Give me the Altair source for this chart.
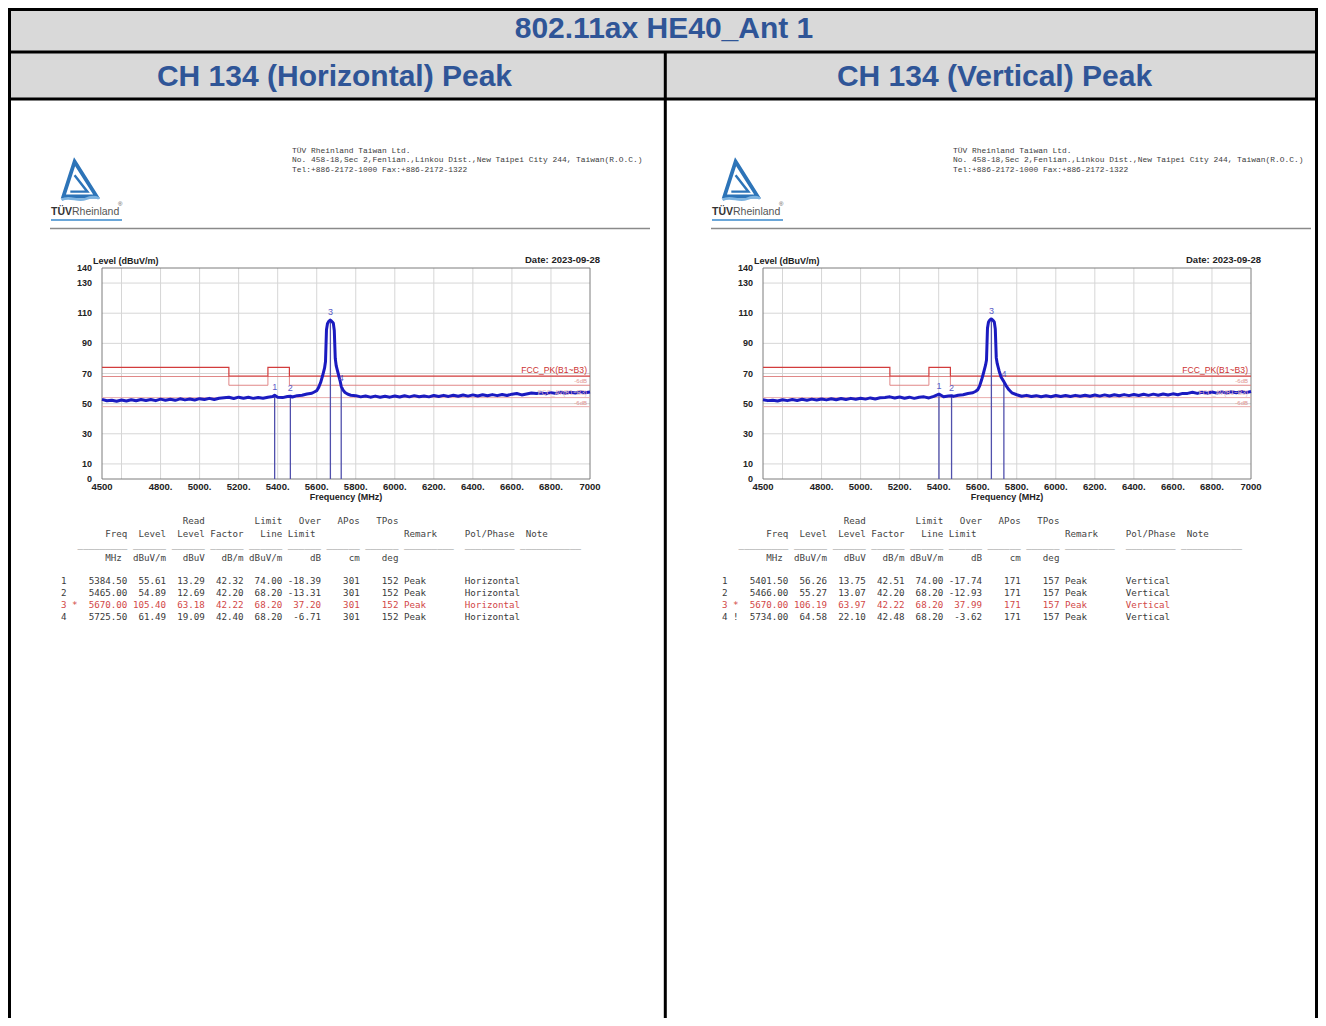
import altair as alt
import pandas as pd

# ----------------------------------------------------------------- texts
MAIN_TITLE = "802.11ax HE40_Ant 1"
PANEL_TITLES = ["CH 134 (Horizontal) Peak", "CH 134 (Vertical) Peak"]
ADDRESS = ["TÜV Rheinland Taiwan Ltd.",
           "No. 458-18,Sec 2,Fenlian.,Linkou Dist.,New Taipei City 244, Taiwan(R.O.C.)",
           "Tel:+886-2172-1000 Fax:+886-2172-1322"]
DATE_TEXT = "Date: 2023-09-28"
Y_TITLE = "Level (dBuV/m)"
X_TITLE = "Frequency (MHz)"
LIMIT_LABELS = ["FCC_PK(B1~B3)", "-6dB", "FCC_AV(B1~B3)", "-6dB"]

# ----------------------------------------------------------------- axes
X_DOMAIN = [4500, 7000]
Y_DOMAIN = [0, 140]
x_tick_values = [4500, 4800, 5000, 5200, 5400, 5600, 5800, 6000, 6200, 6400, 6600, 6800, 7000]
x_tick_labels = ["4500", "4800.", "5000.", "5200.", "5400.", "5600.", "5800.", "6000.",
                 "6200.", "6400.", "6600.", "6800.", "7000"]
y_tick_values = [0, 10, 30, 50, 70, 90, 110, 130, 140]
y_tick_labels = ["0", "10", "30", "50", "70", "90", "110", "130", "140"]
grid_freq = [4600, 4800, 5000, 5200, 5400, 5600, 5800, 6000, 6200, 6400, 6600, 6800]
grid_level = [10, 30, 50, 70, 90, 110, 130]

# ----------------------------------------------------------------- limit lines
limit_pk_freq = [4500, 5150, 5350, 5460, 7000]
limit_pk_level = [74.0, 68.2, 74.0, 68.2, 68.2]
limit_pk6_level = [68.0, 62.2, 68.0, 62.2, 62.2]
limit_av_freq = [4500, 7000]
limit_av_level = [54.0, 54.0]
limit_av6_level = [48.0, 48.0]
limit_label_level = [68.2, 62.2, 54.0, 48.0]

# ----------------------------------------------------------------- traces
h_freq = [4500, 4525, 4550, 4575, 4600, 4625, 4650, 4675, 4700, 4725, 4750, 4775,
          4800, 4825, 4850, 4875, 4900, 4925, 4950, 4975, 5000, 5025, 5050, 5075,
          5100, 5125, 5150, 5175, 5200, 5225, 5250, 5275, 5300, 5325, 5350, 5375,
          5384.5, 5400, 5425, 5450, 5465, 5475, 5500, 5525, 5550, 5575, 5590, 5600,
          5610, 5620, 5630, 5640, 5645, 5650, 5655, 5660, 5665, 5670, 5675, 5680,
          5685, 5690, 5695, 5700, 5710, 5720, 5725.5, 5735, 5745, 5760, 5775,
          5800, 5825, 5850, 5875, 5900, 5925, 5950, 5975, 6000, 6025, 6050, 6075,
          6100, 6125, 6150, 6175, 6200, 6225, 6250, 6275, 6300, 6325, 6350, 6375,
          6400, 6425, 6450, 6475, 6500, 6525, 6550, 6575, 6600, 6625, 6650, 6675,
          6700, 6725, 6750, 6775, 6800, 6825, 6850, 6875, 6900, 6925, 6950, 6975, 7000]
h_level = [52.8, 51.9, 52.3, 51.6, 52.4, 51.8, 52.6, 51.9, 52.7, 52.1, 52.8, 52.0,
           53.0, 52.3, 52.9, 52.2, 53.2, 52.5, 53.1, 52.4, 53.3, 52.7, 53.5, 52.8,
           53.6, 53.9, 54.2, 53.4, 54.3, 53.6, 54.2, 53.5, 54.1, 53.6, 54.3, 54.7,
           55.6, 54.3, 54.0, 54.7, 54.9, 54.4, 55.3, 55.6, 56.4, 56.9, 57.9, 58.6,
           60.8, 64.0, 68.5, 73.5, 78.0, 99.0, 103.0, 104.3, 105.0, 105.4, 104.9, 104.2,
           103.4, 98.5, 80.0, 75.0, 70.0, 65.0, 61.5, 59.0, 57.4, 56.2, 55.6,
           55.3, 54.5, 55.1, 54.3, 55.0, 54.2, 54.9, 54.3, 55.1, 54.4, 55.2, 54.5,
           55.3, 54.6, 55.1, 54.5, 55.4, 54.7, 55.5, 54.8, 55.6, 54.9, 55.7, 55.0,
           55.8, 55.1, 55.9, 55.2, 56.0, 55.3, 56.1, 55.4, 56.3, 56.7, 55.8, 56.4,
           57.0, 56.8, 57.1, 56.6, 57.3, 56.8, 57.5, 56.9, 57.6, 57.0, 57.8, 57.2, 57.7]

v_freq = [4500, 4525, 4550, 4575, 4600, 4625, 4650, 4675, 4700, 4725, 4750, 4775,
          4800, 4825, 4850, 4875, 4900, 4925, 4950, 4975, 5000, 5025, 5050, 5075,
          5100, 5125, 5150, 5175, 5200, 5225, 5250, 5275, 5300, 5325, 5350, 5375,
          5401.5, 5425, 5450, 5466, 5475, 5500, 5525, 5550, 5575, 5590, 5600,
          5610, 5620, 5630, 5640, 5645, 5650, 5655, 5660, 5665, 5670, 5675, 5680,
          5685, 5690, 5695, 5700, 5710, 5720, 5734, 5745, 5760, 5775,
          5800, 5825, 5850, 5875, 5900, 5925, 5950, 5975, 6000, 6025, 6050, 6075,
          6100, 6125, 6150, 6175, 6200, 6225, 6250, 6275, 6300, 6325, 6350, 6375,
          6400, 6425, 6450, 6475, 6500, 6525, 6550, 6575, 6600, 6625, 6650, 6675,
          6700, 6725, 6750, 6775, 6800, 6825, 6850, 6875, 6900, 6925, 6950, 6975, 7000]
v_level = [52.6, 52.0, 52.3, 51.8, 52.6, 52.0, 52.7, 52.1, 52.9, 52.2, 53.0, 52.4,
           53.1, 52.5, 53.2, 52.6, 53.4, 52.8, 53.5, 52.9, 53.6, 53.0, 53.8, 53.1,
           53.9, 54.1, 54.5, 53.7, 54.4, 53.6, 54.3, 53.5, 54.2, 54.5, 53.8, 54.8,
           56.3, 54.6, 55.1, 55.3, 54.8, 55.6, 55.9, 56.7, 57.2, 58.2, 59.2,
           61.8, 65.8, 70.5, 75.5, 79.0, 100.0, 104.0, 105.2, 105.9, 106.2, 105.7, 105.0,
           104.1, 99.5, 80.5, 76.5, 71.5, 67.5, 64.6, 62.0, 59.2, 57.2,
           55.9, 54.9, 55.5, 54.7, 55.3, 54.6, 55.2, 54.6, 55.4, 54.7, 55.4, 54.8,
           55.5, 54.9, 55.6, 54.9, 55.7, 55.0, 55.8, 55.1, 55.9, 55.2, 56.0, 55.3,
           56.1, 55.4, 56.2, 55.5, 56.3, 55.6, 56.4, 55.7, 56.5, 55.9, 56.8, 56.8,
           57.5, 56.8, 57.6, 56.9, 57.7, 57.0, 57.8, 57.1, 57.9, 57.2, 58.0, 57.3, 58.0]

# ----------------------------------------------------------------- marker tables
h_no = [1, 2, 3, 4]
h_flag = ["", "", "*", ""]
h_mk_freq = [5384.50, 5465.00, 5670.00, 5725.50]
h_mk_level = [55.61, 54.89, 105.40, 61.49]
h_read = [13.29, 12.69, 63.18, 19.09]
h_factor = [42.32, 42.20, 42.22, 42.40]
h_limit = [74.00, 68.20, 68.20, 68.20]
h_over = [-18.39, -13.31, 37.20, -6.71]
h_apos = [301, 301, 301, 301]
h_tpos = [152, 152, 152, 152]
h_remark = ["Peak", "Peak", "Peak", "Peak"]
h_pol = ["Horizontal", "Horizontal", "Horizontal", "Horizontal"]

v_no = [1, 2, 3, 4]
v_flag = ["", "", "*", "!"]
v_mk_freq = [5401.50, 5466.00, 5670.00, 5734.00]
v_mk_level = [56.26, 55.27, 106.19, 64.58]
v_read = [13.75, 13.07, 63.97, 22.10]
v_factor = [42.51, 42.20, 42.22, 42.48]
v_limit = [74.00, 68.20, 68.20, 68.20]
v_over = [-17.74, -12.93, 37.99, -3.62]
v_apos = [171, 171, 171, 171]
v_tpos = [157, 157, 157, 157]
v_remark = ["Peak", "Peak", "Peak", "Peak"]
v_pol = ["Vertical", "Vertical", "Vertical", "Vertical"]

# ----------------------------------------------------------------- layout
# view coordinates = page coordinates - 3; the negative padding compensates the
# page margin (svg stays 1310 x 1010 so it is not rescaled by the page).
PAD_L, PAD_T, PAD_R = 5, 5, 6
W, H = 1321, 1015
SANS = "Liberation Sans"
MONO = "DejaVu Sans Mono"
ADDR_FONT = "Liberation Mono"
BLUE_TITLE = "#2f5597"
PANEL_DX = [0, 661]
ZW = "\u200b"  # keeps leading spaces from being trimmed


def X(x):
    return round(x - 3, 2)


def Y(y):
    return round(y - 3, 2)


one = pd.DataFrame({"k": [0]})


def text_at(s, x, y, size, color, weight="normal", align="left", font=SANS, baseline="middle"):
    return alt.Chart(one).mark_text(text=s, fontSize=size, color=color, fontWeight=weight,
                                    align=align, baseline=baseline, font=font).encode(
        x=alt.value(X(x)), y=alt.value(Y(y)))


def hrule(x1, x2, y, color, w):
    return alt.Chart(one).mark_rule(color=color, strokeWidth=w).encode(
        x=alt.value(X(x1)), x2=alt.value(X(x2)), y=alt.value(Y(y)))


def vrule(x, y1, y2, color, w):
    return alt.Chart(one).mark_rule(color=color, strokeWidth=w).encode(
        x=alt.value(X(x)), y=alt.value(Y(y1)), y2=alt.value(min(Y(y2), H)))


def mono(parts, width=100):
    buf = [" "] * width
    for col, s in parts:
        for i, ch in enumerate(s):
            buf[col + i] = ch
    return ZW + "".join(buf).rstrip().replace(" ", "\u00a0")


def right(end, s):
    return (end - len(s) + 1, s)


def data_line(no, flag, f, lv, rd, fa, li, ov, ap, tp, rm, pl):
    parts = [(0, str(no))]
    if flag:
        parts.append((2, flag))
    parts += [right(11, f"{f:.2f}"), right(18, f"{lv:.2f}"), right(25, f"{rd:.2f}"),
              right(32, f"{fa:.2f}"), right(39, f"{li:.2f}"), right(46, f"{ov:.2f}"),
              right(53, str(ap)), right(60, str(tp)), (62, rm), (73, pl)]
    return mono(parts)


HEAD1 = mono([(22, "Read"), (35, "Limit"), (43, "Over"), (50, "APos"), (57, "TPos")])
HEAD2 = mono([(8, "Freq"), (14, "Level"), (21, "Level"), (27, "Factor"), (36, "Line"),
              (41, "Limit"), (62, "Remark"), (73, "Pol/Phase"), (84, "Note")])
HEAD_UL = mono([(3, "_" * 9), (13, "_" * 6), (20, "_" * 6), (27, "_" * 6), (34, "_" * 6),
                (41, "_" * 6), (48, "_" * 6), (55, "_" * 6), (62, "_" * 9), (73, "_" * 9),
                (83, "_" * 11)])
HEAD_UNITS = mono([(8, "MHz"), (13, "dBuV/m"), (22, "dBuV"), (29, "dB/m"), (34, "dBuV/m"),
                   (45, "dB"), (52, "cm"), (58, "deg")])

LOGO_TRI = "M-0.28,-1L0.86,0.8L-0.86,0.8Z"
LOGO_INNER = "M-0.28,-0.3L0.38,0.55L-0.5,0.55"
LOGO_WAVE = "M-0.95,0.98C-0.55,0.72,-0.1,1.12,0.3,0.92C0.55,0.8,0.8,0.82,0.98,0.9"


def spectrum(trace_f, trace_v, mk_no, mk_f, mk_v, dx):
    sx = alt.Scale(domain=X_DOMAIN, range=[X(102 + dx), X(590 + dx)], nice=False, zero=False)
    sy = alt.Scale(domain=Y_DOMAIN, range=[Y(479), Y(268)], nice=False, zero=False)

    def fx(field):
        return alt.X(field, type="quantitative", scale=sx, axis=None)

    def fy(field):
        return alt.Y(field, type="quantitative", scale=sy, axis=None)

    grid_v = alt.Chart(pd.DataFrame({"f": grid_freq, "lo": Y_DOMAIN[0], "hi": Y_DOMAIN[1]})).mark_rule(
        color="#d6d6d6", strokeWidth=1).encode(x=fx("f"), y=fy("lo"), y2=alt.Y2("hi"))
    grid_h = alt.Chart(pd.DataFrame({"v": grid_level, "lo": X_DOMAIN[0], "hi": X_DOMAIN[1]})).mark_rule(
        color="#d6d6d6", strokeWidth=1).encode(y=fy("v"), x=fx("lo"), x2=alt.X2("hi"))

    def step_line(freqs, levels, color, w):
        return alt.Chart(pd.DataFrame({"f": freqs, "v": levels})).mark_line(
            color=color, strokeWidth=w, interpolate="step-after").encode(x=fx("f"), y=fy("v"))

    av6 = step_line(limit_av_freq, limit_av6_level, "#e6a3a3", 0.9)
    av = step_line(limit_av_freq, limit_av_level, "#e6a3a3", 0.9)
    pk6 = step_line(limit_pk_freq, limit_pk6_level, "#dc7b7b", 0.9)
    pk = step_line(limit_pk_freq, limit_pk_level, "#d23c3c", 1.2)

    mk = pd.DataFrame({"no": mk_no, "f": mk_f, "v": mk_v, "lo": Y_DOMAIN[0]})
    mk_rules = alt.Chart(mk).mark_rule(color="#5050ac", strokeWidth=1.3).encode(
        x=fx("f"), y=fy("lo"), y2=alt.Y2("v"))
    mk_text = alt.Chart(mk).mark_text(color="#5a5ac6", fontSize=9, dy=-8, font=SANS).encode(
        x=fx("f"), y=fy("v"), text="no:N")

    trace = alt.Chart(pd.DataFrame({"f": trace_f, "v": trace_v})).mark_line(
        color="#1b1bc0", strokeWidth=3.0, strokeJoin="round").encode(x=fx("f"), y=fy("v"))

    frame_df = pd.DataFrame({"f0": [X_DOMAIN[0]], "f1": [X_DOMAIN[1]],
                             "v0": [Y_DOMAIN[0]], "v1": [Y_DOMAIN[1]]})
    frame = alt.Chart(frame_df).mark_rect(fillOpacity=0, stroke="#7d7d7d", strokeWidth=1).encode(
        x=fx("f0"), x2=alt.X2("f1"), y=fy("v0"), y2=alt.Y2("v1"))

    xl = alt.Chart(pd.DataFrame({"f": x_tick_values, "lab": x_tick_labels, "lo": Y_DOMAIN[0]})).mark_text(
        font=SANS, fontSize=9.5, fontWeight="bold", color="#222222", baseline="middle", dy=8).encode(
        x=fx("f"), y=fy("lo"), text="lab:N")
    yl = alt.Chart(pd.DataFrame({"v": y_tick_values, "lab": y_tick_labels, "lo": X_DOMAIN[0]})).mark_text(
        font=SANS, fontSize=9, fontWeight="bold", color="#222222", baseline="middle", align="right",
        dx=-10).encode(x=fx("lo"), y=fy("v"), text="lab:N")

    def lim_label(s, lvl, size, color, dy):
        d = pd.DataFrame({"f": [X_DOMAIN[1]], "v": [lvl]})
        return alt.Chart(d).mark_text(text=s, fontSize=size, color=color, align="right",
                                      baseline="bottom", dx=-3, dy=dy, font=SANS).encode(
            x=fx("f"), y=fy("v"))

    labels = [lim_label(LIMIT_LABELS[0], limit_label_level[0], 8.6, "#cc3333", -1),
              lim_label(LIMIT_LABELS[1], limit_label_level[1], 6, "#e09090", -1),
              lim_label(LIMIT_LABELS[2], limit_label_level[2], 6.5, "#ecbcbc", -2),
              lim_label(LIMIT_LABELS[3], limit_label_level[3], 6, "#e09090", -1)]

    return alt.layer(grid_v, grid_h, frame, av6, av, pk6, pk, mk_rules, trace, mk_text, xl, yl,
                     *labels)


def panel_static(dx):
    parts = []
    for shape, w, col in [(LOGO_TRI, 3.8, "#2d74b8"), (LOGO_INNER, 2.4, "#2d74b8"),
                          (LOGO_WAVE, 2.6, "#7db3e0")]:
        parts.append(alt.Chart(one).mark_point(shape=shape, size=1500, filled=False, strokeWidth=w,
                                               color=col, opacity=1).encode(
            x=alt.value(X(80 + dx)), y=alt.value(Y(181))))
    parts.append(text_at("TÜV", 51 + dx, 212, 10.5, "#333333", "bold"))
    parts.append(text_at("Rheinland", 72 + dx, 212, 10.5, "#555555"))
    parts.append(text_at("®", 118 + dx, 204, 6, "#555555"))
    parts.append(hrule(51 + dx, 122 + dx, 220, "#6aa6d8", 2))
    parts.append(hrule(50 + dx, 650 + dx, 228.5, "#8a8a8a", 1.5))
    for i, line in enumerate(ADDRESS):
        parts.append(text_at(line, 292 + dx, 151 + 9.3 * i, 7.9, "#3c3c3c", font=ADDR_FONT))
    parts.append(text_at(DATE_TEXT, 600 + dx, 260, 9.5, "#222222", "bold", "right"))
    parts.append(text_at(Y_TITLE, 93 + dx, 261, 9, "#222222", "bold"))
    parts.append(text_at(X_TITLE, 346 + dx, 497, 9, "#222222", "bold", "center"))
    parts.append(text_at(HEAD1, 61 + dx, 521, 9.2, "#444444", font=MONO))
    parts.append(text_at(HEAD2, 61 + dx, 534, 9.2, "#444444", font=MONO))
    parts.append(text_at(HEAD_UL, 61 + dx, 548, 9.2, "#555555", font=MONO, baseline="alphabetic"))
    parts.append(text_at(HEAD_UNITS, 61 + dx, 558, 9.2, "#444444", font=MONO))
    return parts


def table_rows(no, flag, f, lv, rd, fa, li, ov, ap, tp, rm, pl, dx):
    lines = [data_line(*vals) for vals in zip(no, flag, f, lv, rd, fa, li, ov, ap, tp, rm, pl)]
    red = ["#d24848" if fl == "*" else "#3a3a3a" for fl in flag]
    df = pd.DataFrame({"no": no, "line": lines, "col": red})
    ys = alt.Scale(domain=[1, 4], range=[Y(581), Y(617)], nice=False, zero=False)
    return alt.Chart(df).mark_text(align="left", baseline="middle", font=MONO, fontSize=9.2).encode(
        x=alt.value(X(61 + dx)), y=alt.Y("no:Q", scale=ys, axis=None), text="line:N",
        color=alt.Color("col:N", scale=None))


layers = []
layers.append(alt.Chart(one).mark_rect(color="#d9d9d9").encode(
    x=alt.value(X(8)), x2=alt.value(X(1318)), y=alt.value(Y(8)), y2=alt.value(Y(99))))
layers.append(text_at(MAIN_TITLE, 664, 28.5, 30, BLUE_TITLE, "bold", "center"))
layers.append(text_at(PANEL_TITLES[0], 334.5, 76.5, 30, BLUE_TITLE, "bold", "center"))
layers.append(text_at(PANEL_TITLES[1], 994.5, 76.5, 30, BLUE_TITLE, "bold", "center"))

for dx in PANEL_DX:
    layers += panel_static(dx)

layers.append(spectrum(h_freq, h_level, h_no, h_mk_freq, h_mk_level, PANEL_DX[0]))
layers.append(spectrum(v_freq, v_level, v_no, v_mk_freq, v_mk_level, PANEL_DX[1]))

layers.append(table_rows(h_no, h_flag, h_mk_freq, h_mk_level, h_read, h_factor, h_limit, h_over,
                         h_apos, h_tpos, h_remark, h_pol, PANEL_DX[0]))
layers.append(table_rows(v_no, v_flag, v_mk_freq, v_mk_level, v_read, v_factor, v_limit, v_over,
                         v_apos, v_tpos, v_remark, v_pol, PANEL_DX[1]))

# table borders (outer edges sit on the first / last visible pixels)
layers.append(hrule(8, 1318, 9.5, "#000000", 3))
layers.append(hrule(8, 1318, 52, "#000000", 3))
layers.append(hrule(8, 1318, 99, "#000000", 3))
layers.append(vrule(9.5, 8, 1040, "#000000", 3))
layers.append(vrule(1316.5, 8, 1040, "#000000", 3))
layers.append(vrule(665.3, 52, 1040, "#000000", 3))

chart = alt.layer(*layers).resolve_scale(x="independent", y="independent").properties(
    width=W, height=H, autosize=alt.AutoSizeParams(type="none"),
    padding={"left": -PAD_L, "top": -PAD_T, "right": -PAD_R, "bottom": 0}, background="white"
).configure_view(strokeWidth=0)

chart.save("out.html", embed_options={"renderer": "svg", "actions": False})
